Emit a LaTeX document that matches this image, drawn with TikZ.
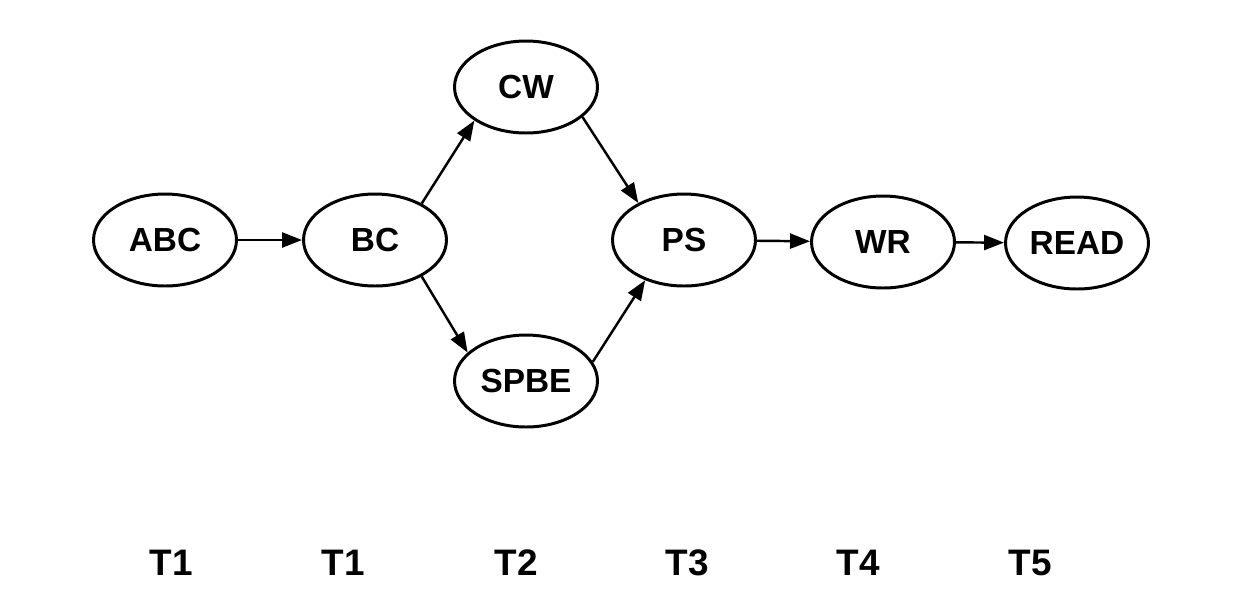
\documentclass[tikz,border=0pt]{standalone}
\usepackage{fontspec}
\setmainfont{Liberation Sans}
\usetikzlibrary{shapes.geometric,arrows.meta}

\tikzset{
  task/.style={ellipse, draw, line width=1.7pt, minimum width=2.86cm,
    minimum height=1.84cm, inner sep=0pt,
    font=\fontsize{19}{19}\selectfont\bfseries},
  flow/.style={line width=1.4pt, -{Triangle[length=0.4cm, width=0.3cm]}},
  tlabel/.style={font=\fontsize{21}{21}\selectfont\bfseries}
}

\begin{document}
\begin{tikzpicture}[x=0.02cm, y=-0.02cm]
  \useasboundingbox[fill=white] (0,0) rectangle (1253,600);
  % tasks
  \node[task] (abc)  at (165,240) {ABC};
  \node[task] (bc)   at (375,240) {BC};
  \node[task] (cw)   at (526,87)  {CW};
  \node[task] (spbe) at (526,381) {SPBE};
  \node[task] (ps)   at (684,240) {PS};
  \node[task] (wr)   at (883,242) {WR};
  \node[task] (read) at (1077,243) {READ};
  % edges
  \draw[flow] (abc) -- (bc);
  \draw[flow] (bc.38) -- (cw.213);
  \draw[flow] (bc.-38) -- (spbe.154);
  \draw[flow] (cw.-28) -- (ps.141);
  \draw[flow] (spbe.16) -- (ps.226);
  \draw[flow] (ps) -- (wr);
  \draw[flow] (wr) -- (read);
  % time steps
  \node[tlabel] (t1a) at (171,563) {T1};
  \node[tlabel] (t1b) at (343,563) {T1};
  \node[tlabel] (t2)  at (516,563) {T2};
  \node[tlabel] (t3)  at (687,563) {T3};
  \node[tlabel] (t4)  at (858,563) {T4};
  \node[tlabel] (t5)  at (1030,563) {T5};
\end{tikzpicture}
\end{document}
